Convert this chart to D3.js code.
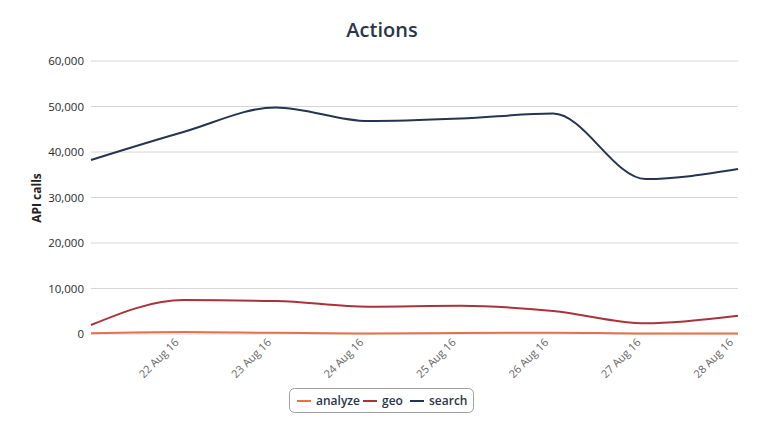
<!DOCTYPE html>
<html><head><meta charset="utf-8">
<script src="https://cdn.jsdelivr.net/npm/d3@7"></script>
<style>body{margin:0;background:#fff;font-family:"Open Sans",sans-serif;}</style>
</head><body>
<svg id="c" width="765" height="447"></svg>
<script>
const dates = ["2016-08-21","2016-08-22","2016-08-23","2016-08-24","2016-08-25","2016-08-26","2016-08-27","2016-08-28"];
const analyze = [150, 450, 250, 120, 200, 300, 100, 120];
const geo = [1980, 7450, 7250, 6000, 6200, 5050, 2350, 4000];
const search = [38250, 44400, 49800, 46800, 47350, 48450, 34050, 36250];
const yTicks = [0, 10000, 20000, 30000, 40000, 50000, 60000];
const xTickDates = ["2016-08-22","2016-08-23","2016-08-24","2016-08-25","2016-08-26","2016-08-27","2016-08-28"];
const seriesNames = ["analyze","geo","search"];
const seriesColors = ["#e96f49","#a8333b","#26344f"];

const parse = d3.utcParse("%Y-%m-%d");
const svg = d3.select("#c");
const L = 91, R = 738, T = 61, B = 334;
const x = d3.scaleUtc().domain([parse(dates[0]), parse(dates[dates.length-1])]).range([L, R]);
const y = d3.scaleLinear().domain([0, 60000]).range([B, T]);

// title
svg.append("text").attr("x", 382).attr("y", 37).attr("text-anchor","middle")
  .attr("font-size", 20).attr("font-weight", 600).attr("fill", "#2b3648").text("Actions");

// grid + y labels
const ya = svg.append("g");
yTicks.forEach(t => {
  ya.append("line").attr("x1", L).attr("x2", R).attr("y1", y(t)).attr("y2", y(t))
    .attr("stroke", "#d6d6d6").attr("stroke-width", 1);
  ya.append("text").attr("x", 84).attr("y", y(t) + 4).attr("text-anchor","end")
    .attr("font-size", 11.5).attr("fill", "#2a2a2a").text(d3.format(",")(t));
});
svg.append("text").attr("transform","translate(41,198) rotate(-90)").attr("text-anchor","middle")
  .attr("font-size", 12).attr("font-weight", 700).attr("fill", "#222").text("API calls");

// x labels
const fmt = d3.utcFormat("%d %b %y");
xTickDates.forEach(s => {
  const d = parse(s);
  svg.append("text").attr("transform", `translate(${x(d)-4},343) rotate(-45)`)
    .attr("text-anchor","end").attr("font-size", 11).attr("fill", "#666").text(fmt(d));
});

// lines
const allSeries = [analyze, geo, search];
const line = d3.line().x((d,i) => x(parse(dates[i]))).y(d => y(d)).curve(d3.curveMonotoneX);
allSeries.forEach((s, k) => {
  svg.append("path").datum(s).attr("d", line).attr("fill","none")
    .attr("stroke", seriesColors[k]).attr("stroke-width", 2);
});

// legend
const lg = svg.append("g");
lg.append("rect").attr("x", 289.5).attr("y", 388.5).attr("width", 184).attr("height", 24).attr("rx", 5)
  .attr("fill", "#fff").attr("stroke", "#a0a0a0");
const itemX = [297, 363, 410];
seriesNames.forEach((n, k) => {
  lg.append("line").attr("x1", itemX[k]).attr("x2", itemX[k] + 14).attr("y1", 401).attr("y2", 401)
    .attr("stroke", seriesColors[k]).attr("stroke-width", 2);
  lg.append("text").attr("x", itemX[k] + 19).attr("y", 405).attr("font-size", 12).attr("font-weight", 600)
    .attr("fill", "#2b3648").text(n);
});
</script>
</body></html>
